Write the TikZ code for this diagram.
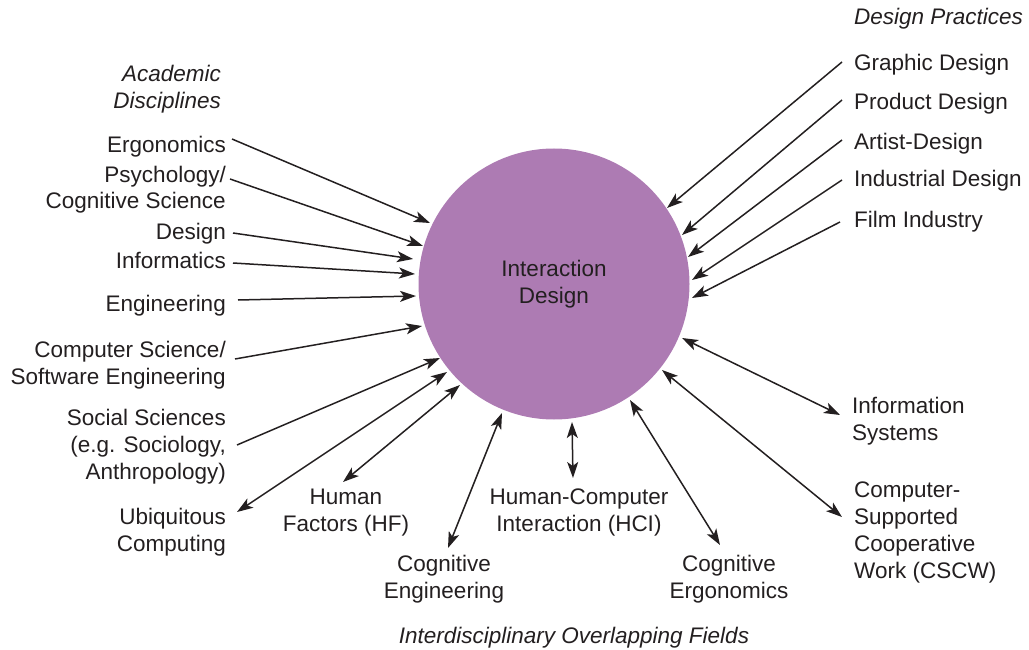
\documentclass[tikz,border=0pt]{standalone}
\usepackage{fontspec}
\setmainfont{Liberation Sans}
\usetikzlibrary{arrows.meta}
\definecolor{purp}{RGB}{173,123,179}
\definecolor{ink}{RGB}{35,31,32}
\begin{document}
\begin{tikzpicture}[x=1pt,y=-1pt,
  lbl/.style={inner sep=0pt, text=ink, font=\fontsize{22.5}{27}\selectfont},
  lbll/.style={lbl, align=right, anchor=base east},
  lblr/.style={lbl, align=left, anchor=base west},
  lblc/.style={lbl, align=center, anchor=base},
  head/.style={lbl, font=\fontsize{22.5}{27}\selectfont\itshape},
  tip/.style={Stealth[length=16pt,width=11pt,inset=4pt]},
  arr/.style={draw=ink, line width=1.5pt, -{Stealth[length=16pt,width=11pt,inset=4pt]}},
  darr/.style={draw=ink, line width=1.5pt, {Stealth[length=16pt,width=11pt,inset=4pt]}-{Stealth[length=16pt,width=11pt,inset=4pt]}}]
\useasboundingbox (0,0) rectangle (1029,650);
% central circle
\node[circle, fill=purp, minimum size=271pt, inner sep=0pt, align=center, text=ink,
  font=\fontsize{22.5}{27}\selectfont] (c) at (554,284) {Interaction\\Design};
% headings
\node[head, align=right, anchor=base east] (hacad) at (221,109) {Academic\\Disciplines};
\node[head, anchor=base west] (hdes) at (854,25) {Design Practices};
\node[head, anchor=base] (hint) at (574,643) {Interdisciplinary Overlapping Fields};
% left labels (base = baseline of last line)
\node[lbll] (ergo) at (226,153) {Ergonomics};
\node[lbll] (psy) at (226,209) {Psychology/\\Cognitive Science};
\node[lbll] (des) at (226,240) {Design};
\node[lbll] (inf) at (226,268) {Informatics};
\node[lbll] (eng) at (226,311) {Engineering};
\node[lbll] (cs) at (226,384) {Computer Science/\\Software Engineering};
\node[lbll] (soc) at (226,479) {Social Sciences\\(e.g. Sociology,\\Anthropology)};
\node[lbll] (ubi) at (226,551) {Ubiquitous\\Computing};
% bottom labels
\node[lblc] (hf) at (346,531) {Human\\Factors (HF)};
\node[lblc] (ce) at (444,598) {Cognitive\\Engineering};
\node[lblc] (hci) at (579,531) {Human-Computer\\Interaction (HCI)};
\node[lblc] (cerg) at (729,598) {Cognitive\\Ergonomics};
% right labels
\node[lblr] (is) at (852,440) {Information\\Systems};
\node[lblr] (cscw) at (854,578) {Computer-\\Supported\\Cooperative\\Work (CSCW)};
\node[lblr] (gd) at (854,71) {Graphic Design};
\node[lblr] (pd) at (854,110) {Product Design};
\node[lblr] (ad) at (854,150) {Artist-Design};
\node[lblr] (id) at (854,186) {Industrial Design};
\node[lblr] (fi) at (854,227) {Film Industry};
% connector end points
\coordinate (ergoS) at (232,139); \coordinate (ergoE) at (430,223);
\coordinate (psyS) at (230,179);  \coordinate (psyE) at (423,246);
\coordinate (desS) at (233,233);  \coordinate (desE) at (413,259);
\coordinate (infS) at (233,263);  \coordinate (infE) at (415,274);
\coordinate (engS) at (238,300);  \coordinate (engE) at (416,296);
\coordinate (csS) at (235,359);   \coordinate (csE) at (422,326);
\coordinate (socS) at (237,445);  \coordinate (socE) at (440,358);
\coordinate (ubiS) at (237,512);  \coordinate (ubiE) at (447,372);
\coordinate (hfS) at (343,482);   \coordinate (hfE) at (460,385);
\coordinate (ceS) at (448,548);   \coordinate (ceE) at (502,413);
\coordinate (hciS) at (573,478);  \coordinate (hciE) at (572,422);
\coordinate (cergS) at (720,545); \coordinate (cergE) at (630,400);
\coordinate (isS) at (840,415);   \coordinate (isE) at (682,338);
\coordinate (cscwS) at (842,517); \coordinate (cscwE) at (662,370);
\coordinate (gdS) at (842,62);    \coordinate (gdE) at (667,208);
\coordinate (pdS) at (842,100);   \coordinate (pdE) at (682,235);
\coordinate (adS) at (842,140);   \coordinate (adE) at (688,257);
\coordinate (idS) at (842,180);   \coordinate (idE) at (692,280);
\coordinate (fiS) at (840,222);   \coordinate (fiE) at (692,298);
% connectors
\foreach \n in {ergo,psy,des,inf,eng,cs,soc,gd,pd,ad,id,fi}
  \draw[arr] (\n S) -- (\n E);
\foreach \n in {ubi,hf,ce,hci,cerg,is,cscw}
  \draw[darr] (\n S) -- (\n E);
\end{tikzpicture}
\end{document}
